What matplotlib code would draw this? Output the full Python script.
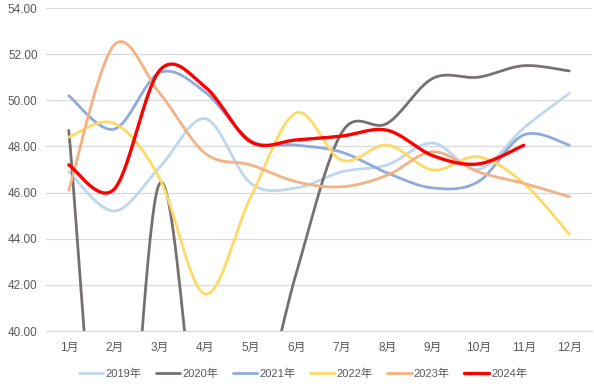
import numpy as np
import matplotlib
matplotlib.use("Agg")
import matplotlib.pyplot as plt

plt.rcParams['font.family'] = ['Liberation Sans', 'Noto Sans CJK SC']

months = ["1月", "2月", "3月", "4月", "5月", "6月", "7月", "8月", "9月", "10月", "11月", "12月"]

# 指数 (some 2020 points fall below the axis)
y2019 = [46.9, 45.2, 47.1, 49.2, 46.4, 46.2, 46.9, 47.2, 48.15, 47.0, 48.8, 50.3]
y2020 = [48.7, 28.5, 46.4, 33.3, 35.1, 42.5, 48.6, 49.0, 50.95, 51.0, 51.5, 51.27]
y2021 = [50.2, 48.75, 51.2, 50.35, 48.25, 48.06, 47.75, 46.85, 46.2, 46.47, 48.5, 48.06]
y2022 = [48.4, 49.0, 46.6, 41.6, 45.8, 49.45, 47.4, 48.06, 46.98, 47.55, 46.4, 44.2]
y2023 = [46.1, 52.4, 50.3, 47.7, 47.2, 46.47, 46.25, 46.75, 47.77, 46.9, 46.4, 45.82]
y2024 = [47.2, 46.15, 51.3, 50.57, 48.2, 48.28, 48.45, 48.7, 47.6, 47.24, 48.05]

series = [
    ("2019年", y2019, "#BDD7EE", 2.0),
    ("2020年", y2020, "#767171", 2.0),
    ("2021年", y2021, "#8FAADC", 2.0),
    ("2022年", y2022, "#FFD966", 2.0),
    ("2023年", y2023, "#F4B183", 2.0),
    ("2024年", y2024, "#FF0000", 2.4),
]


def smooth(xs, ys, n=40):
    # bezier like excel's smoothed line (catmull-rom control points)
    xs = np.asarray(xs, float)
    ys = np.asarray(ys, float)
    px = np.concatenate([[xs[0]], xs, [xs[-1]]])
    py = np.concatenate([[ys[0]], ys, [ys[-1]]])
    t = np.linspace(0, 1, n)
    outx, outy = [], []
    for i in range(1, len(px) - 2):
        x0, x3 = px[i], px[i + 1]
        y0, y3 = py[i], py[i + 1]
        x1 = x0 + (px[i + 1] - px[i - 1]) / 6
        y1 = y0 + (py[i + 1] - py[i - 1]) / 6
        x2 = x3 - (px[i + 2] - px[i]) / 6
        y2 = y3 - (py[i + 2] - py[i]) / 6
        b0 = (1 - t) ** 3
        b1 = 3 * (1 - t) ** 2 * t
        b2 = 3 * (1 - t) * t ** 2
        b3 = t ** 3
        outx.append(b0 * x0 + b1 * x1 + b2 * x2 + b3 * x3)
        outy.append(b0 * y0 + b1 * y1 + b2 * y2 + b3 * y3)
    return np.concatenate(outx), np.concatenate(outy)


fig = plt.figure(figsize=(5.94, 3.86), dpi=100)
ax = fig.add_axes([46 / 594, 1 - 331 / 386, 546 / 594, 323 / 386])

for name, vals, col, lw in series:
    sx, sy = smooth(np.arange(len(vals)), vals)
    ax.plot(sx, sy, color=col, lw=lw, label=name, solid_capstyle='round')

ax.set_xlim(-0.5, 11.5)
ax.set_ylim(40, 54)
ax.set_yticks(np.arange(40, 54.1, 2))
ax.set_yticklabels([f"{v:.2f}" for v in np.arange(40, 54.1, 2)])
ax.set_xticks(range(len(months)))
ax.set_xticklabels(months)
ax.tick_params(length=0, labelsize=8.5, colors="#595959", pad=6)
ax.tick_params(axis='x', pad=8)
ax.grid(axis='y', color="#D9D9D9", lw=0.9)
ax.set_axisbelow(True)
for s in ["top", "right", "left"]:
    ax.spines[s].set_visible(False)
ax.spines["bottom"].set_color("#D9D9D9")

fig.legend(loc="center", bbox_to_anchor=(0.51, 1 - 374 / 386), ncol=6,
           frameon=False, fontsize=8, handlelength=2.2, handletextpad=0.2,
           columnspacing=1.3, labelcolor="#595959")

fig.savefig("out.png", dpi=100)
